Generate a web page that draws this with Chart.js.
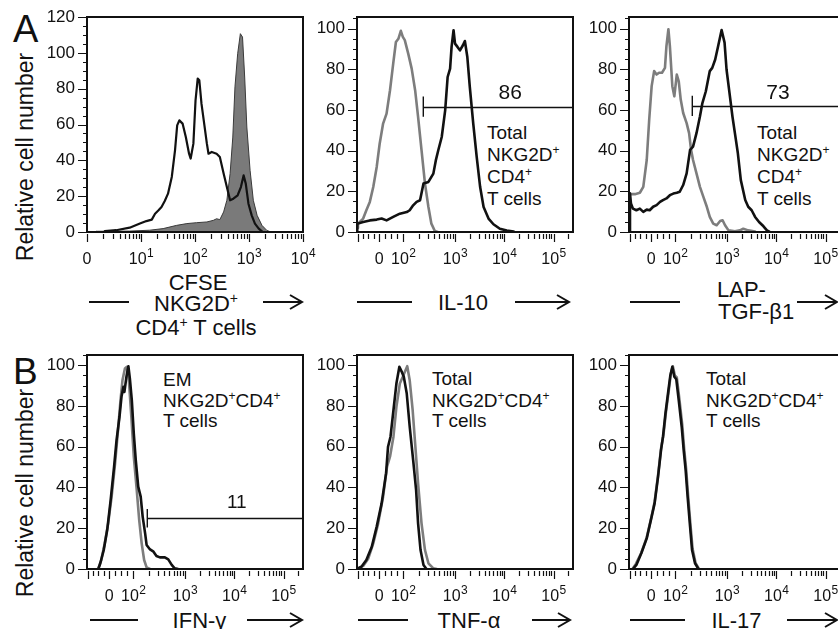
<!DOCTYPE html>
<html><head><meta charset="utf-8">
<script src="https://cdn.jsdelivr.net/npm/chart.js@4"></script>
<style>
html,body{margin:0;padding:0;background:#fff;}
body{width:838px;height:629px;overflow:hidden;position:relative;}
canvas{position:absolute;}
#ov{position:absolute;left:0;top:0;}
</style></head><body>
<svg id="ov" width="838" height="629" font-family="Liberation Sans, Arial, Helvetica, sans-serif" fill="#111">
  <text x="13" y="42" font-size="38">A</text>
  <text x="13" y="383.5" font-size="37">B</text>
  <text transform="translate(33,157) rotate(-90)" text-anchor="middle" font-size="23">Relative cell number</text>
  <text transform="translate(33,493) rotate(-90)" text-anchor="middle" font-size="23">Relative cell number</text>

  <text x="198" y="290" text-anchor="middle" font-size="22">CFSE</text>
  <text x="196" y="311" text-anchor="middle" font-size="22">NKG2D<tspan font-size="14" dy="-8">+</tspan></text>
  <text x="196" y="335" text-anchor="middle" font-size="22">CD4<tspan font-size="14" dy="-8">+</tspan><tspan dy="8"> T cells</tspan></text>
  <text x="463" y="310" text-anchor="middle" font-size="22">IL-10</text>
  <text x="717" y="297" font-size="22">LAP-</text>
  <text x="718" y="319" font-size="22">TGF-β1</text>
  <text x="199.5" y="627.5" text-anchor="middle" font-size="22">IFN-γ</text>
  <text x="469" y="627.5" text-anchor="middle" font-size="22">TNF-α</text>
  <text x="736.5" y="627.5" text-anchor="middle" font-size="22">IL-17</text>

  <g font-size="19">
    <text x="487" y="138.5">Total</text>
    <text x="487" y="160.5">NKG2D<tspan font-size="12" dy="-7">+</tspan></text>
    <text x="487" y="183">CD4<tspan font-size="12" dy="-7">+</tspan></text>
    <text x="487" y="205">T cells</text>
    <text x="757" y="138.5">Total</text>
    <text x="757" y="160.5">NKG2D<tspan font-size="12" dy="-7">+</tspan></text>
    <text x="757" y="183">CD4<tspan font-size="12" dy="-7">+</tspan></text>
    <text x="757" y="205">T cells</text>
    <text x="163" y="386">EM</text>
    <text x="163" y="407">NKG2D<tspan font-size="12" dy="-7">+</tspan><tspan dy="7">CD4</tspan><tspan font-size="12" dy="-7">+</tspan></text>
    <text x="163" y="427">T cells</text>
    <text x="432" y="384.5">Total</text>
    <text x="432" y="406.5">NKG2D<tspan font-size="12" dy="-7">+</tspan><tspan dy="7">CD4</tspan><tspan font-size="12" dy="-7">+</tspan></text>
    <text x="432" y="427">T cells</text>
    <text x="706" y="385">Total</text>
    <text x="706" y="407">NKG2D<tspan font-size="12" dy="-7">+</tspan><tspan dy="7">CD4</tspan><tspan font-size="12" dy="-7">+</tspan></text>
    <text x="706" y="427">T cells</text>
  </g>

  <g stroke="#111" stroke-width="2" fill="none">
    <path d="M89 302H129 M263 302H302 M290 295L302 302L290 309"/>
    <path d="M357 302H412 M515 302H569 M557 295L569 302L557 309"/>
    <path d="M630 302H680 M797 302H837 M825 295L837 302L825 309"/>
    <path d="M90 620H138 M247 620H302 M290 613L302 620L290 627"/>
    <path d="M358 620H408 M532 620H570 M558 613L570 620L558 627"/>
    <path d="M630 620H685 M787 620H837 M825 613L837 620L825 627"/>
  </g>
</svg>
<script>
const FONT = '"Liberation Sans", Arial, Helvetica, sans-serif';
const BLACK = '#111111';
const GREY = '#7d7d7d';

// ---------- data: [x position in decades, relative cell number] ----------
// A: CFSE dilution
const cfseNKG2D = [[0.33,0.5],[0.54,1],[0.79,2.4],[0.98,4.7],[1.10,6.1],[1.20,6.9],[1.26,10.2],[1.32,12],[1.38,14],[1.44,17.3],[1.50,21.4],[1.57,30.7],[1.63,45.6],[1.67,59.5],[1.71,62.3],[1.77,60.5],[1.83,53],[1.89,43.7],[1.92,41],[1.97,49.3],[2.01,73.5],[2.05,85.6],[2.08,84.7],[2.12,71.6],[2.17,60.5],[2.22,49.3],[2.25,43.7],[2.31,44.7],[2.40,43.7],[2.46,41.9],[2.53,32.6],[2.59,25.1],[2.65,17.7],[2.71,18.6],[2.79,20.5],[2.85,25.1],[2.90,31.6],[2.94,27],[2.99,15.8],[3.05,9.3],[3.11,4.7],[3.18,1.9],[3.24,0.4]];
const cfseControl = [[0.17,0.4],[0.79,0.5],[1.16,1],[1.41,1.9],[1.66,3.7],[1.85,4.7],[2.03,5.2],[2.22,5.6],[2.34,6.5],[2.40,7.4],[2.46,6.9],[2.53,11.2],[2.59,17.7],[2.65,32.6],[2.70,53],[2.74,81],[2.79,99.5],[2.84,110.7],[2.88,108.8],[2.92,86.5],[2.96,58.6],[3.02,34.4],[3.08,17.7],[3.15,9.3],[3.24,3.7],[3.33,0.9],[3.39,0.2]];
// A: IL-10
const il10Iso = [[1.02,2],[1.03,4.1],[1.135,6.6],[1.20,10.7],[1.27,14.8],[1.34,22.1],[1.41,32],[1.47,43.4],[1.54,53.3],[1.61,58.2],[1.68,69.7],[1.745,82.8],[1.80,93.4],[1.85,95],[1.90,98.9],[1.94,95.9],[1.98,94.3],[2.05,87.7],[2.12,80.3],[2.19,69.7],[2.25,56.6],[2.32,40.2],[2.39,23.8],[2.46,12.3],[2.52,4.1],[2.59,0.5],[2.65,0]];
const il10Stain = [[1.015,0],[1.015,4.1],[1.135,4.9],[1.27,5.7],[1.41,6.1],[1.51,6.6],[1.61,5.7],[1.745,7.4],[1.88,9],[2.02,9.8],[2.08,10.7],[2.15,13.1],[2.22,14.8],[2.29,15.6],[2.36,23.8],[2.46,24.6],[2.56,28.7],[2.61,35.2],[2.66,40.2],[2.73,46.7],[2.80,59.8],[2.85,76.2],[2.90,80.3],[2.93,91],[2.97,99.2],[3.00,92.6],[3.05,91],[3.10,89.3],[3.16,91.8],[3.20,93.9],[3.25,86],[3.30,71.3],[3.37,53.3],[3.44,36.9],[3.51,22.1],[3.58,12.3],[3.68,6.6],[3.78,3.8],[3.91,1.6],[4.05,0.7],[4.19,0.2]];
// A: LAP-TGF-beta1
const lapIso = [[1.015,0],[1.02,18.6],[1.13,18.6],[1.23,19.3],[1.30,22.2],[1.37,35.4],[1.42,55.2],[1.47,71.7],[1.52,79.1],[1.57,77.4],[1.62,78.3],[1.68,78.3],[1.74,80.7],[1.77,91.4],[1.81,99.7],[1.84,91.4],[1.89,71.7],[1.93,66.7],[1.98,77.4],[2.02,74.1],[2.06,65.1],[2.11,58.5],[2.18,53.5],[2.23,48.6],[2.27,40.4],[2.31,35.4],[2.38,28.8],[2.45,22.2],[2.52,17.3],[2.59,12.4],[2.65,7.4],[2.72,4.1],[2.79,3.3],[2.86,5.4],[2.91,5.8],[2.96,3.3],[3.03,0.8],[3.16,0.3],[3.26,0.8],[3.33,1.6],[3.43,0.8],[3.57,0.2]];
const lapStain = [[1.02,0],[1.03,19],[1.05,14],[1.09,11.5],[1.16,10.7],[1.23,11.5],[1.30,9.9],[1.37,11],[1.43,10.7],[1.50,12.4],[1.57,13.2],[1.64,14.8],[1.70,15.7],[1.77,16.5],[1.84,18.1],[1.91,18.9],[1.98,19.3],[2.04,19.8],[2.11,23.1],[2.18,28.8],[2.25,40.4],[2.31,42],[2.38,48.6],[2.45,56.8],[2.50,63.4],[2.57,69.2],[2.65,79.1],[2.70,80.7],[2.76,84.8],[2.82,91.4],[2.89,99.3],[2.95,93.1],[2.99,79.9],[3.05,68.4],[3.11,56.8],[3.16,48.6],[3.22,38.7],[3.28,25.5],[3.37,15.7],[3.43,12.4],[3.50,10.7],[3.57,7.4],[3.65,4.9],[3.74,2.8],[3.81,0.8],[3.86,0.2]];
// B: IFN-gamma
const ifngIso = [[1.24,0.3],[1.30,4.4],[1.37,12.6],[1.44,22.4],[1.51,35.5],[1.58,51.8],[1.64,68.1],[1.69,82.8],[1.73,92.6],[1.78,98.4],[1.82,99.2],[1.86,92.6],[1.91,74.7],[1.96,55.1],[2.02,38.7],[2.07,24],[2.12,12.6],[2.17,4.4],[2.22,0.8],[2.29,0]];
const ifngStain = [[1.24,0],[1.28,2.8],[1.35,9.3],[1.42,19.1],[1.49,33.8],[1.56,50.2],[1.61,63.2],[1.67,74.7],[1.71,84.5],[1.75,89.4],[1.77,86.9],[1.81,94.3],[1.85,99.5],[1.88,93.5],[1.92,82.8],[1.96,66.5],[2.00,53.4],[2.05,40.4],[2.10,35.5],[2.14,25.7],[2.19,17.5],[2.22,11.8],[2.29,9.6],[2.36,8.5],[2.42,6.4],[2.49,5.7],[2.59,5.7],[2.66,4.7],[2.73,2],[2.79,0.3],[2.86,0]];
// B: TNF-alpha
const tnfIso = [[1.01,0],[1.135,1.5],[1.24,5.2],[1.34,12.6],[1.44,22.4],[1.54,35.5],[1.62,50.2],[1.68,55.1],[1.75,64.9],[1.81,79.6],[1.88,91],[1.94,94.3],[1.98,96.7],[2.03,99.5],[2.08,92.6],[2.14,77.9],[2.19,61.6],[2.25,42],[2.32,22.4],[2.39,9.3],[2.46,2.8],[2.56,0.3],[2.63,0]];
const tnfStain = [[1.01,0],[1.10,1.1],[1.20,4.4],[1.31,10.9],[1.41,20.8],[1.51,32.2],[1.60,46.9],[1.64,60],[1.69,64.9],[1.75,77.9],[1.81,91],[1.87,99.2],[1.92,96.7],[1.96,94.3],[2.02,86.1],[2.08,69.8],[2.15,53.4],[2.21,38.7],[2.25,22.4],[2.30,9.3],[2.36,2],[2.42,0]];
// B: IL-17
const il17Iso = [[1.08,0],[1.15,2.5],[1.26,8],[1.37,15.5],[1.47,26],[1.53,33],[1.60,46],[1.66,59],[1.71,66],[1.76,77],[1.82,88],[1.86,96],[1.90,99.5],[1.94,95],[1.98,94],[2.03,84],[2.09,71],[2.13,59],[2.17,49],[2.21,36],[2.26,21],[2.30,10],[2.36,3],[2.43,0]];
const il17Stain = [[1.09,0],[1.16,2],[1.26,7.7],[1.37,15],[1.47,25.7],[1.53,32.2],[1.60,45.3],[1.66,58.3],[1.70,64.9],[1.75,76.3],[1.81,87.7],[1.85,95.1],[1.89,99.2],[1.93,94.3],[1.97,93.1],[2.02,82.8],[2.08,69.8],[2.12,58.3],[2.16,48.5],[2.20,35.5],[2.25,20.8],[2.29,9.3],[2.35,2.8],[2.42,0]];

// ---------- tick labels ----------
const cfseTickPos = [0, 1, 2, 3, 4];
const cfseTickLabels = ['0', '10¹', '10²', '10³', '10⁴'];
const biexTickPos = [1.03, 1.46, 1.95, 3, 4, 5];
const biexTickLabels = ['', '0', '10²', '10³', '10⁴', '10⁵'];

// ---------- gates: [lower bound, level, percent] ----------
const il10Gate = {from: 2.356, level: 61.6, label: '86', at: [4.12, 68], size: 21, half: 5};
const lapGate  = {from: 2.295, level: 62.0, label: '73', at: [4.035, 68], size: 21, half: 5};
const ifngGate = {from: 2.234, level: 24.9, label: '11', at: [4.05, 32.6], size: 19, half: 4.5};

// ---------- tick geometry helpers ----------
const SUP = {'¹':'1','²':'2','³':'3','⁴':'4','⁵':'5'};
function logMinors(){ const m=[]; for(let d=0; d<4; d++) for(let k=2;k<10;k++) m.push(d+Math.log10(k)); return m; }
function biexMinors(){
  const m=[1.13,1.24,1.35,1.58,1.70,1.83];
  for(let k=2;k<10;k++) m.push(1.95+1.05*Math.log10(k));
  for(let d=3; d<6; d++) for(let k=2;k<10;k++){ const v=d+Math.log10(k); if(v<5.39) m.push(v); }
  return m;
}

function frame(p){
  return {id:'frame', afterDraw(chart){
    const {ctx, chartArea:a, scales:{x,y}} = chart;
    ctx.save();
    ctx.strokeStyle = BLACK; ctx.fillStyle = BLACK;
    if (p.gate){
      const g = p.gate;
      const gx = x.getPixelForValue(g.from), gy = Math.round(y.getPixelForValue(g.level))+0.5;
      ctx.lineWidth = 1.4; ctx.beginPath();
      ctx.moveTo(gx, gy); ctx.lineTo(a.right, gy);
      ctx.moveTo(gx, y.getPixelForValue(g.level+g.half)); ctx.lineTo(gx, y.getPixelForValue(g.level-g.half));
      ctx.stroke();
      ctx.font = g.size+'px '+FONT; ctx.textAlign='center'; ctx.textBaseline='middle';
      ctx.fillText(g.label, x.getPixelForValue(g.at[0]), y.getPixelForValue(g.at[1]));
    }
    ctx.lineWidth = 2;
    ctx.strokeRect(a.left, a.top, a.right-a.left, a.bottom-a.top);
    // y ticks
    ctx.lineWidth = 1.2; ctx.beginPath();
    for (let v=0; v<=p.yr[1]+1e-6; v+=5){
      const py = Math.round(y.getPixelForValue(v))+0.5; const L = (v%20===0)?9:4;
      ctx.moveTo(a.left-L, py); ctx.lineTo(a.left, py);
    }
    ctx.stroke();
    ctx.font = '17px '+FONT; ctx.textAlign='right'; ctx.textBaseline='middle';
    for (let v=0; v<=p.yr[1]+1e-6; v+=20) ctx.fillText(String(v), a.left-12, y.getPixelForValue(v));
    // x ticks
    ctx.beginPath();
    for (const v of p.xMinor){ const px=Math.round(x.getPixelForValue(v))+0.5; ctx.moveTo(px,a.bottom+2); ctx.lineTo(px,a.bottom+7); }
    for (const v of p.xPos){ const px=Math.round(x.getPixelForValue(v))+0.5; ctx.moveTo(px,a.bottom+2); ctx.lineTo(px,a.bottom+10); }
    ctx.stroke();
    const base = a.bottom + 31.5;
    ctx.textBaseline = 'alphabetic';
    p.xPos.forEach((v,i)=>{
      const lab = p.xLab[i]; if(!lab) return;
      const px = x.getPixelForValue(v);
      const last = lab[lab.length-1];
      if (SUP[last]){
        const b = lab.slice(0,-1), e = SUP[last];
        ctx.font='16px '+FONT; const w1=ctx.measureText(b).width;
        ctx.font='12px '+FONT; const w2=ctx.measureText(e).width;
        const s = px-(w1+w2)/2; ctx.textAlign='left';
        ctx.font='16px '+FONT; ctx.fillText(b, s, base);
        ctx.font='12px '+FONT; ctx.fillText(e, s+w1+0.5, base-7);
      } else { ctx.font='16px '+FONT; ctx.textAlign='center'; ctx.fillText(lab, px, base); }
    });
    ctx.restore();
  }};
}

const BIEX = [1.01, 5.395];
const panels = [
  {box:[87,17,216,215], xr:[0,4], yr:[0,120], xPos:cfseTickPos, xLab:cfseTickLabels, xMinor:logMinors(),
   series:[{d:cfseNKG2D,c:BLACK,w:2.2},{d:cfseControl,c:'#3a3a3a',w:1,fill:'#7a7a7a'}]},
  {box:[357,17,216,215], xr:BIEX, yr:[0,105.7], xPos:biexTickPos, xLab:biexTickLabels, xMinor:biexMinors(), gate:il10Gate,
   series:[{d:il10Stain,c:BLACK,w:2.6},{d:il10Iso,c:GREY,w:2.6}]},
  {box:[629,17,216,215], xr:BIEX, yr:[0,105.7], xPos:biexTickPos, xLab:biexTickLabels, xMinor:biexMinors(), gate:lapGate,
   series:[{d:lapStain,c:BLACK,w:2.6},{d:lapIso,c:GREY,w:2.6}]},
  {box:[87,355,216,214], xr:BIEX, yr:[0,105], xPos:biexTickPos, xLab:biexTickLabels, xMinor:biexMinors(), gate:ifngGate,
   series:[{d:ifngStain,c:BLACK,w:2.6},{d:ifngIso,c:GREY,w:2.6}]},
  {box:[357,355,216,214], xr:BIEX, yr:[0,105], xPos:biexTickPos, xLab:biexTickLabels, xMinor:biexMinors(),
   series:[{d:tnfStain,c:BLACK,w:2.6},{d:tnfIso,c:GREY,w:2.6}]},
  {box:[629,355,216,214], xr:BIEX, yr:[0,105], xPos:biexTickPos, xLab:biexTickLabels, xMinor:biexMinors(),
   series:[{d:il17Stain,c:BLACK,w:2.6},{d:il17Iso,c:GREY,w:2.6}]}
];

const PL=60, PT=8, PR=22, PB=50;
panels.forEach(p=>{
  const cv = document.createElement('canvas');
  cv.width = p.box[2]+PL+PR; cv.height = p.box[3]+PT+PB;
  cv.style.left = (p.box[0]-PL)+'px'; cv.style.top = (p.box[1]-PT)+'px';
  document.body.appendChild(cv);
  new Chart(cv, {
    type:'line',
    data:{datasets:p.series.map((s,i)=>({
      data:s.d.map(([x,y])=>({x,y})), borderColor:s.c, borderWidth:s.w,
      backgroundColor:s.fill||'rgba(0,0,0,0)', fill:s.fill?'origin':false,
      pointRadius:0, tension:0, order:i, borderJoinStyle:'round', borderCapStyle:'round'}))},
    options:{responsive:false, animation:false, devicePixelRatio:1, events:[],
      layout:{padding:{left:PL,top:PT,right:PR,bottom:PB}},
      scales:{x:{type:'linear',min:p.xr[0],max:p.xr[1],display:false},
              y:{type:'linear',min:p.yr[0],max:p.yr[1],display:false}},
      plugins:{legend:{display:false},tooltip:{enabled:false}}},
    plugins:[frame(p)]
  });
});
</script>
</body></html>
